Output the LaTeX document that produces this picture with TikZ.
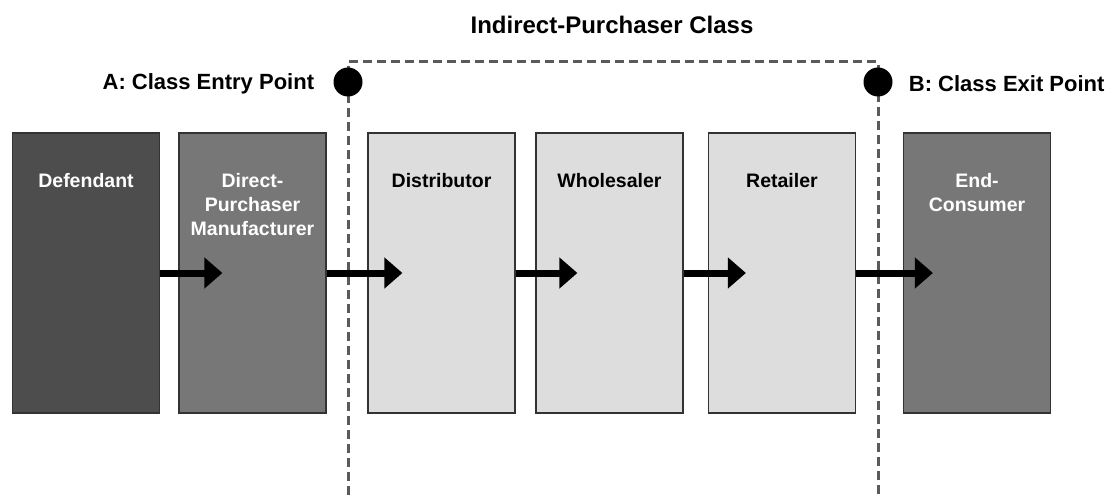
\documentclass[tikz,border=0pt]{standalone}
\usepackage{fontspec}
\setmainfont{Liberation Sans}
\usetikzlibrary{positioning,calc,arrows.meta}
\definecolor{darkbox}{HTML}{4D4D4D}
\definecolor{midbox}{HTML}{777777}
\definecolor{lightbox}{HTML}{DDDDDD}
\definecolor{dashgray}{HTML}{5A5A5A}
\tikzstyle{box} = [rectangle, draw=black!80, line width=1.2pt, minimum width=147pt, minimum height=280pt]
\tikzstyle{boxtext} = [align=center, inner sep=0pt, font=\fontsize{19.5}{24}\selectfont\bfseries]
\tikzstyle{arrow} = [line width=7pt, -{Triangle[length=18pt,width=30pt]}]
\tikzstyle{dot} = [circle, fill=black, minimum size=29pt, inner sep=0pt]
\tikzstyle{note} = [inner sep=0pt, font=\fontsize{22}{26}\selectfont\bfseries]
\tikzstyle{border} = [draw=dashgray, line width=3pt, dash pattern=on 9pt off 5pt]

\begin{document}
\begin{tikzpicture}[x=1pt, y=-1pt]
    \useasboundingbox (0,0) rectangle (1106,495);
    % class boundary
    \draw [border] (348,495) -- (348,62) -- (878,62) -- (878,495);

    % supply chain
    \node (def) [box, fill=darkbox] at (86,273) {};
    \node (dpm) [box, fill=midbox, right=18.3pt of def] {};
    \node (dis) [box, fill=lightbox, right=40.8pt of dpm] {};
    \node (whl) [box, fill=lightbox, right=19.8pt of dis] {};
    \node (ret) [box, fill=lightbox, right=24.3pt of whl] {};
    \node (con) [box, fill=midbox, right=46.8pt of ret] {};

    \node (defT) [boxtext, white, below=41pt of def.north] {Defendant};
    \node (dpmT) [boxtext, white, below=41pt of dpm.north] {Direct-\\Purchaser\\Manufacturer};
    \node (disT) [boxtext, below=41pt of dis.north] {Distributor};
    \node (whlT) [boxtext, below=41pt of whl.north] {Wholesaler};
    \node (retT) [boxtext, below=41pt of ret.north] {Retailer};
    \node (conT) [boxtext, white, below=41pt of con.north] {End-\\Consumer};

    \draw [arrow] (def.east) -- ($(dpm.west)+(44,0)$);
    \draw [arrow] (dpm.east) -- ($(dis.west)+(35,0)$);
    \draw [arrow] (dis.east) -- ($(whl.west)+(42,0)$);
    \draw [arrow] (whl.east) -- ($(ret.west)+(38,0)$);
    \draw [arrow] (ret.east) -- ($(con.west)+(30,0)$);

    % entry and exit points
    \node (entry) [dot] at (348,82) {};
    \node (exit) [dot] at (878,82) {};
    \node (entryT) [note, left=19pt of entry, yshift=-2pt] {A: Class Entry Point};
    \node (exitT) [note, right=16pt of exit, yshift=-2pt] {B: Class Exit Point};
    \node (title) [note, font=\fontsize{24}{28}\selectfont\bfseries] at (612,25) {Indirect-Purchaser Class};
\end{tikzpicture}
\end{document}
